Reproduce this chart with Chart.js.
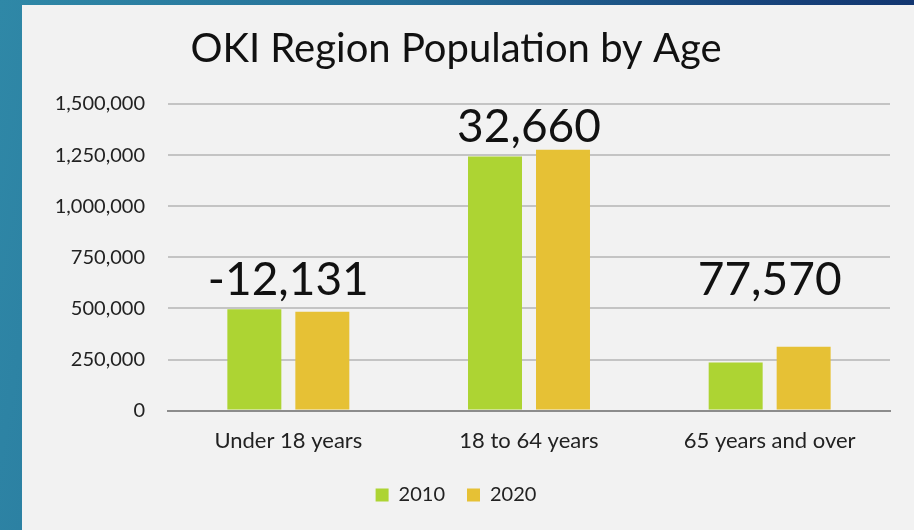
<!DOCTYPE html>
<html>
<head>
<meta charset="utf-8">
<script src="https://cdn.jsdelivr.net/npm/chart.js@4"></script>
<style>
  html, body { margin: 0; padding: 0; }
  body {
    width: 914px; height: 530px; overflow: hidden;
    background: linear-gradient(100deg, #2f88a7 0%, #256f98 40%, #163f78 80%, #0f2f6a 100%);
    position: relative;
  }
  #panel {
    position: absolute; left: 22px; top: 5px; width: 892px; height: 525px;
    background: #f2f2f2;
  }
</style>
</head>
<body>
<div id="panel"><canvas id="myChart" width="892" height="525"></canvas></div>
<script>
const categories = ["Under 18 years", "18 to 64 years", "65 years and over"];
const pop2010 = [496000, 1243000, 235000];
const pop2020 = [483869, 1275660, 312570];
const yTicks = [0, 250000, 500000, 750000, 1000000, 1250000, 1500000];

// where each change label sits (y value, axis units)
const changeAnchor = [640000, 1387000, 640000];

const changeLabels = {
  id: "changeLabels",
  afterDatasetsDraw(chart) {
    const ctx = chart.ctx;
    const xs = chart.scales.x, ys = chart.scales.y;
    ctx.save();
    ctx.font = "46px Lato";
    ctx.fillStyle = "#111";
    ctx.textAlign = "center";
    ctx.textBaseline = "middle";
    categories.forEach((c, i) => {
      const diff = pop2020[i] - pop2010[i];
      ctx.fillText(diff.toLocaleString("en-US"), xs.getPixelForValue(i), ys.getPixelForValue(changeAnchor[i]));
    });
    ctx.restore();
  }
};

new Chart(document.getElementById("myChart"), {
  type: "bar",
  data: {
    labels: categories,
    datasets: [
      { label: "2010", data: pop2010, backgroundColor: "#add433" },
      { label: "2020", data: pop2020, backgroundColor: "#e6c135" }
    ]
  },
  options: {
    responsive: false,
    animation: false,
    categoryPercentage: 0.565,
    barPercentage: 0.794,
    layout: { padding: { top: 0, right: 24, bottom: 15, left: 0 } },
    plugins: {
      title: {
        display: true,
        text: "OKI Region Population by Age",
        color: "#111",
        font: { family: "Lato", size: 40, weight: "normal" },
        padding: { top: 20, bottom: 31 }
      },
      legend: {
        position: "bottom",
        labels: {
          color: "#222",
          font: { family: "Lato", size: 20 },
          boxWidth: 13, boxHeight: 13,
          padding: 22
        }
      },
      tooltip: { enabled: false }
    },
    scales: {
      x: {
        grid: { display: false },
        border: { color: "#8c8c8c", width: 2 },
        ticks: { color: "#222", font: { family: "Lato", size: 22 }, padding: 9 }
      },
      y: {
        min: 0, max: 1500000,
        afterFit(scale) { scale.width = 146; },
        afterBuildTicks(scale) { scale.ticks = yTicks.map(v => ({ value: v })); },
        border: { display: false },
        grid: {
          drawTicks: false,
          color: ctx => ctx.tick && ctx.tick.value === 0 ? "#8c8c8c" : "#c4c4c4",
          lineWidth: 2
        },
        ticks: {
          color: "#222",
          font: { family: "Lato", size: 20 },
          padding: 23,
          callback: v => v.toLocaleString("en-US")
        }
      }
    }
  },
  plugins: [changeLabels]
});
</script>
</body>
</html>
